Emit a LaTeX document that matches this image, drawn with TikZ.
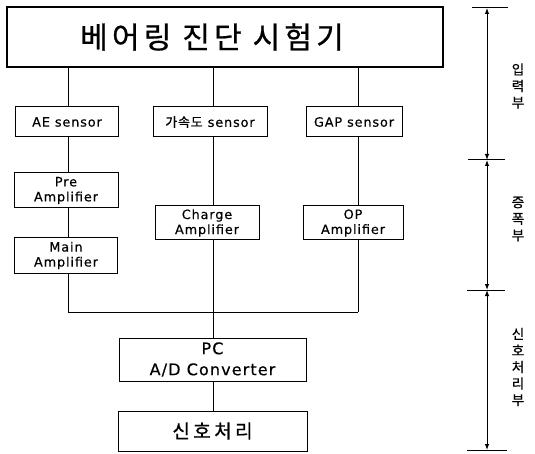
\documentclass[tikz,border=0pt]{standalone}
\usepackage{fontspec}
\setmainfont{Noto Sans CJK KR}
\newfontfamily\lt[LetterSpace=7,FakeBold=0.4]{DejaVu Sans}
\newfontfamily\kr[FakeBold=0.8]{Noto Sans CJK KR}
\usetikzlibrary{arrows.meta}
\tikzset{
  box/.style={draw, line width=1pt, inner sep=0pt, align=center},
  smallbox/.style={box, font=\lt\fontsize{12.8}{15}\selectfont},
  wire/.style={line width=0.9pt},
  tick/.style={line width=1pt},
  dimline/.style={line width=1pt, {Latex[length=6pt,width=4.5pt]}-{Latex[length=6pt,width=4.5pt]}},
  vlabel/.style={align=center, inner sep=0pt, font=\kr\fontsize{13.5}{16.5}\selectfont},
}
\begin{document}
\begin{tikzpicture}[x=1pt,y=-1pt]
\useasboundingbox (0,0) rectangle (535,454);
% column positions
\coordinate (c1) at (68,0);
\coordinate (c2) at (213,0);
\coordinate (c3) at (358,0);
\coordinate (bus) at (0,312);
% boxes
\node[box, line width=1.2pt, minimum width=436pt, minimum height=60pt,
      font=\kr\fontsize{30}{36}\selectfont\addfontfeature{LetterSpace=14}]
      (top) at (225,37) {베어링 진단 시험기\hspace{26pt}};
\node[smallbox, minimum width=103pt, minimum height=30pt] (ae) at (67,122) {AE sensor};
\node[smallbox, minimum width=114pt, minimum height=30pt] (acc) at (210,122) {{\kr\fontsize{13}{15}\selectfont\addfontfeature{LetterSpace=6}가속도} sensor};
\node[smallbox, minimum width=96pt, minimum height=30pt] (gap) at (354,122) {GAP sensor};
\node[smallbox, minimum width=104pt, minimum height=35pt] (pre) at (66,190.5) {Pre\\Amplifier};
\node[smallbox, minimum width=103pt, minimum height=35pt] (main) at (66,255.5) {Main\\Amplifier};
\node[smallbox, minimum width=104pt, minimum height=34pt] (charge) at (207,223) {Charge\\Amplifier};
\node[smallbox, minimum width=100pt, minimum height=34pt] (op) at (353,223) {OP\\Amplifier};
\node[box, minimum width=187pt, minimum height=43pt, font=\lt\fontsize{16}{21}\selectfont] (pc) at (212.5,359.5) {PC\\A/D Converter};
\node[box, minimum width=189pt, minimum height=40pt, font=\kr\fontsize{19}{22}\selectfont\addfontfeature{LetterSpace=18}] (sig) at (212.5,431) {신호처리};
% connectors column 1
\draw[wire] (top.south -| c1) -- (ae.north -| c1);
\draw[wire] (ae.south -| c1) -- (pre.north -| c1);
\draw[wire] (pre.south -| c1) -- (main.north -| c1);
\draw[wire] (main.south -| c1) -- (bus -| c1);
% column 2
\draw[wire] (top.south -| c2) -- (acc.north -| c2);
\draw[wire] (acc.south -| c2) -- (charge.north -| c2);
\draw[wire] (charge.south -| c2) -- (pc.north -| c2);
\draw[wire] (pc.south -| c2) -- (sig.north -| c2);
% column 3
\draw[wire] (top.south -| c3) -- (gap.north -| c3);
\draw[wire] (gap.south -| c3) -- (op.north -| c3);
\draw[wire] (op.south -| c3) -- (bus -| c3);
% bus
\draw[wire] (bus -| c1) -- (bus -| c3);
% dimension line
\coordinate (d0) at (487,8);
\coordinate (d1) at (487,160);
\coordinate (d2) at (487,290);
\coordinate (d3) at (487,450);
\draw[tick] (472,8) -- (508,8);
\draw[tick] (468,160) -- (505,160);
\draw[tick] (467,290) -- (505,290);
\draw[tick] (467,450) -- (507,450);
\draw[dimline] (d0) -- (d1);
\draw[dimline] (d1) -- (d2);
\draw[dimline] (d2) -- (d3);
% labels
\node[vlabel] (l1) at (518,86) {입\\력\\부};
\node[vlabel] (l2) at (518,219) {증\\폭\\부};
\node[vlabel] (l3) at (518,367) {신\\호\\처\\리\\부};
\end{tikzpicture}
\end{document}
